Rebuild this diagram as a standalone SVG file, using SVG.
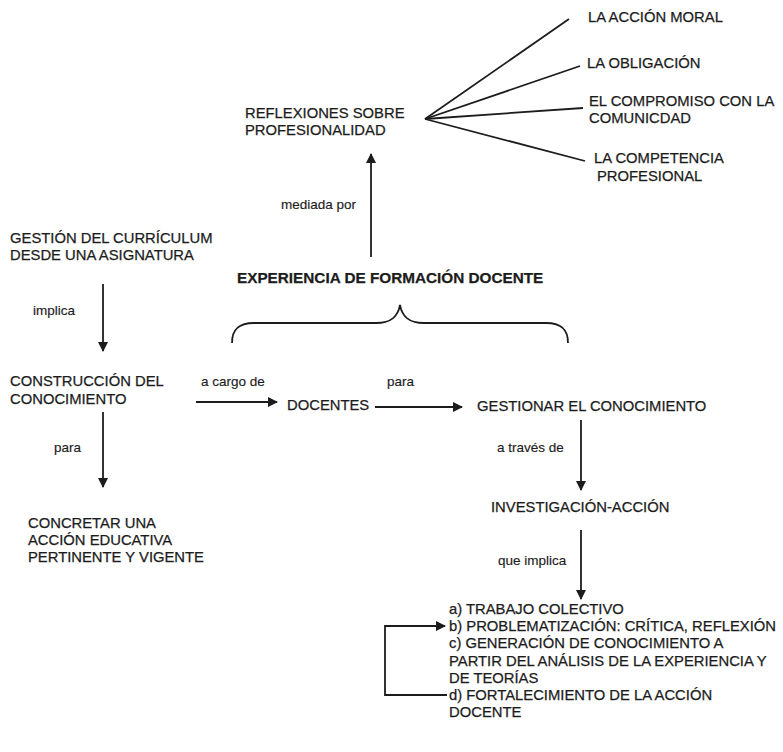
<svg xmlns="http://www.w3.org/2000/svg" width="783" height="752" viewBox="0 0 783 752">
<defs>
<style>
text{font-family:"Liberation Sans",Arial,Helvetica,sans-serif;fill:#1c1c1c;stroke:#1c1c1c;stroke-width:0.25}
.n{font-size:14.8px}
.b{font-size:15.3px;font-weight:bold}
.l{font-size:13.5px;stroke-width:0.15}
.c{fill:none;stroke:#1c1c1c;stroke-width:1.8}
</style>
<marker id="ah" viewBox="0 0 10 10" refX="9" refY="5" markerWidth="10" markerHeight="10" markerUnits="userSpaceOnUse" orient="auto">
<path d="M0,0 L10,5 L0,10 z" fill="#1c1c1c"/>
</marker>
</defs>
<rect width="783" height="752" fill="#fff"/>

<g id="connectors">
<line class="c" x1="425" y1="119" x2="569" y2="19"/>
<line class="c" x1="425" y1="119" x2="580" y2="66"/>
<line class="c" x1="425" y1="119" x2="583" y2="108"/>
<line class="c" x1="425" y1="119" x2="585" y2="161"/>
<line class="c" x1="371" y1="257" x2="371" y2="154" marker-end="url(#ah)"/>
<path class="c" d="M232,343 C232,330 238,323 254,323 L376,323 C392,323 398,316 400,305 C402,316 408,323 424,323 L546,323 C562,323 568,330 568,343"/>
<line class="c" x1="103" y1="284" x2="103" y2="351" marker-end="url(#ah)"/>
<line class="c" x1="196" y1="402" x2="277" y2="402" marker-end="url(#ah)"/>
<line class="c" x1="375" y1="407" x2="462" y2="407" marker-end="url(#ah)"/>
<line class="c" x1="103" y1="412" x2="103" y2="487" marker-end="url(#ah)"/>
<line class="c" x1="581" y1="420" x2="581" y2="490" marker-end="url(#ah)"/>
<line class="c" x1="581" y1="530" x2="581" y2="599" marker-end="url(#ah)"/>
<path class="c" d="M447,695 L385,695 L385,626 L445,626" marker-end="url(#ah)"/>
</g>

<g id="n-accion-moral"><text class="n" x="588" y="22">LA ACCIÓN MORAL</text></g>
<g id="n-obligacion"><text class="n" x="587" y="68">LA OBLIGACIÓN</text></g>
<g id="n-compromiso"><text class="n" x="589" y="106">EL COMPROMISO CON LA</text><text class="n" x="589" y="123">COMUNICDAD</text></g>
<g id="n-competencia"><text class="n" x="594" y="163">LA COMPETENCIA</text><text class="n" x="597" y="181">PROFESIONAL</text></g>
<g id="n-reflexiones"><text class="n" x="245" y="118">REFLEXIONES SOBRE</text><text class="n" x="245" y="135">PROFESIONALIDAD</text></g>
<g id="l-mediada"><text class="l" x="281" y="209">mediada por</text></g>
<g id="n-experiencia"><text class="b" x="237" y="283">EXPERIENCIA DE FORMACIÓN DOCENTE</text></g>
<g id="n-gestion-curriculum"><text class="n" x="10" y="243">GESTIÓN DEL CURRÍCULUM</text><text class="n" x="10" y="260">DESDE UNA ASIGNATURA</text></g>
<g id="l-implica"><text class="l" x="33" y="315">implica</text></g>
<g id="n-construccion"><text class="n" x="10" y="386">CONSTRUCCIÓN DEL</text><text class="n" x="10" y="404">CONOCIMIENTO</text></g>
<g id="l-cargo"><text class="l" x="201" y="386">a cargo de</text></g>
<g id="n-docentes"><text class="n" x="287" y="410">DOCENTES</text></g>
<g id="l-para1"><text class="l" x="387" y="386">para</text></g>
<g id="n-gestionar"><text class="n" x="477" y="411">GESTIONAR EL CONOCIMIENTO</text></g>
<g id="l-para2"><text class="l" x="54" y="452">para</text></g>
<g id="n-concretar"><text class="n" x="28" y="528">CONCRETAR UNA</text><text class="n" x="28" y="545">ACCIÓN EDUCATIVA</text><text class="n" x="28" y="562">PERTINENTE Y VIGENTE</text></g>
<g id="l-traves"><text class="l" x="497" y="452">a través de</text></g>
<g id="n-investigacion"><text class="n" x="491" y="512">INVESTIGACIÓN-ACCIÓN</text></g>
<g id="l-que-implica"><text class="l" x="498" y="565">que implica</text></g>
<g id="n-lista">
<text class="n" x="449" y="614">a) TRABAJO COLECTIVO</text>
<text class="n" x="449" y="631">b) PROBLEMATIZACIÓN: CRÍTICA, REFLEXIÓN</text>
<text class="n" x="449" y="648">c) GENERACIÓN DE CONOCIMIENTO A</text>
<text class="n" x="449" y="666">PARTIR DEL ANÁLISIS DE LA EXPERIENCIA Y</text>
<text class="n" x="449" y="683">DE TEORÍAS</text>
<text class="n" x="449" y="700">d) FORTALECIMIENTO DE LA ACCIÓN</text>
<text class="n" x="449" y="717">DOCENTE</text>
</g>
</svg>
